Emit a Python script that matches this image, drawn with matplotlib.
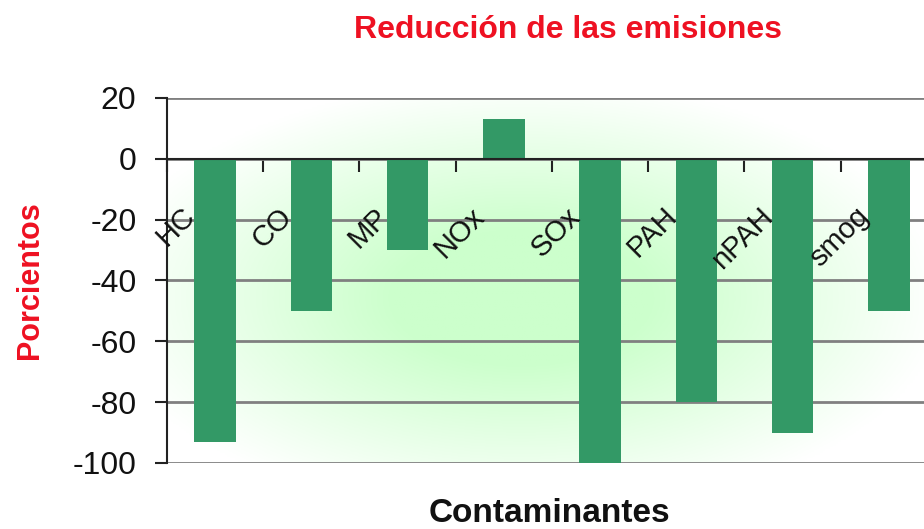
import numpy as np
import matplotlib.pyplot as plt
from matplotlib.colors import LinearSegmentedColormap

contaminantes = ["HC", "CO", "MP", "NOx", "SOx", "PAH", "nPAH", "smog"]
reduccion = [-93, -50, -30, 13, -100, -80, -90, -50]
y_ticks = [20, 0, -20, -40, -60, -80, -100]

plt.rcParams['font.family'] = ['Liberation Sans', 'DejaVu Sans']

fig = plt.figure(figsize=(9.24, 5.29), dpi=100)
ax = fig.add_axes([0.1807, 0.1248, 0.8333, 0.69])

# soft green glow behind the bars
gx, gy = np.meshgrid(np.linspace(0, 1, 300), np.linspace(0, 1, 200))
r = np.sqrt(((gx - 0.46) / 0.55) ** 2 + ((gy - 0.45) / 0.6) ** 2)
glow = np.clip(1 - r, 0, 1)
cmap = LinearSegmentedColormap.from_list("glow", ["#ffffff", "#ccffcc"])
ax.imshow(glow, cmap=cmap, extent=[0, 1, 0, 1], transform=ax.transAxes,
          aspect="auto", origin="lower", zorder=0, vmin=0, vmax=0.7)

x = np.arange(len(contaminantes))
ax.bar(x, reduccion, width=0.43, color="#339966", zorder=3)

ax.set_xlim(-0.5, 7.5)
ax.set_ylim(-100, 20)
ax.set_yticks(y_ticks)
ax.set_yticklabels([str(v) for v in y_ticks], fontsize=23, color="#111111")
ax.yaxis.grid(True, color="#808080", linewidth=2, zorder=1)
ax.set_axisbelow(True)

ax.set_xticks(np.arange(-0.5, 8, 1))
ax.set_xticklabels([])
ax.tick_params(axis="x", length=9, width=1.5, color="#222222")
ax.tick_params(axis="y", length=9, width=1.5, color="#222222", pad=13)

ax.spines["bottom"].set_position(("data", 0))
ax.spines["bottom"].set_color("#222222")
ax.spines["bottom"].set_linewidth(1.5)
ax.spines["bottom"].set_zorder(4)
ax.spines["left"].set_color("#222222")
ax.spines["left"].set_linewidth(1.5)
ax.spines["top"].set_visible(False)
ax.spines["right"].set_visible(False)

for i, name in enumerate(contaminantes):
    ax.text(i - 0.25, -17.5, name, rotation=45, rotation_mode="anchor",
            ha="right", va="center", fontsize=21, color="#111111", zorder=5)

fig.text(0.615, 0.943, "Reducción de las emisiones", color="#ee1122",
         fontsize=23, fontweight="bold", ha="center", va="center")
fig.text(0.032, 0.47, "Porcientos", color="#ee1122", fontsize=22,
         fontweight="bold", rotation=90, ha="center", va="center")
fig.text(0.595, 0.03, "Contaminantes", color="#111111", fontsize=24,
         fontweight="bold", ha="center", va="center")

fig.savefig("out.png", dpi=100)
